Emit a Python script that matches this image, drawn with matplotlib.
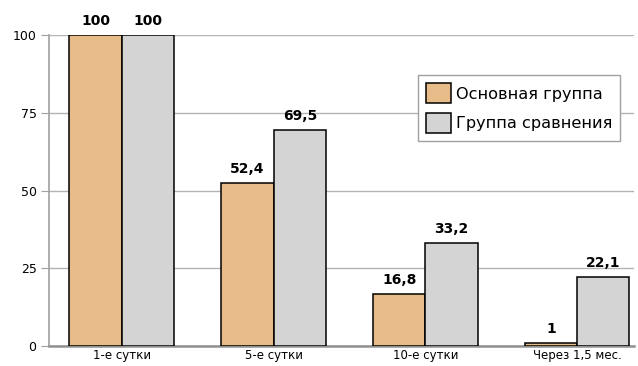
"""Grouped bar chart: main vs comparison group over follow-up time points."""

import matplotlib

matplotlib.use("Agg")
import matplotlib.pyplot as plt
import numpy as np

categories = ["1-е сутки", "5-е сутки", "10-е сутки", "Через 1,5 мес."]
main_group = [100, 52.4, 16.8, 1]
comparison_group = [100, 69.5, 33.2, 22.1]
series_names = ["Основная группа", "Группа сравнения"]
y_ticks = [0, 25, 50, 75, 100]


def fmt(v: float) -> str:
    s = f"{v:g}"
    return s.replace(".", ",")


def main() -> None:
    plt.rcParams["font.family"] = ["DejaVu Sans"]
    fig = plt.figure(figsize=(6.38, 3.66), dpi=100)
    ax = fig.add_axes([49 / 638, 1 - 346 / 366, (634 - 49) / 638, (346 - 35) / 366])

    x = np.arange(len(categories))
    w = 0.345
    colors = ["#E8BC88", "#D4D4D4"]

    for i, (vals, name) in enumerate(zip([main_group, comparison_group], series_names)):
        pos = x + (i - 0.5) * w
        ax.bar(pos, vals, width=w, color=colors[i], edgecolor="black",
               linewidth=1.1, label=name, zorder=3)
        for px, v in zip(pos, vals):
            ax.annotate(fmt(v), (px, v), xytext=(0, 5), textcoords="offset points",
                        ha="center", va="bottom", fontsize=10, fontweight="bold",
                        annotation_clip=False)

    ax.set_xlim(-0.48, 3.375)
    ax.set_ylim(0, 100)
    ax.set_yticks(y_ticks)
    ax.set_xticks(x)
    ax.set_xticklabels(categories)
    ax.tick_params(axis="y", length=6, color="#a0a0a0", labelsize=9, pad=3)
    ax.tick_params(axis="x", length=0, labelsize=8.5, pad=2.5)
    ax.yaxis.grid(True, color="#b4b4b4", linewidth=1.0, zorder=0)
    ax.set_axisbelow(True)
    for side in ["top", "right"]:
        ax.spines[side].set_visible(False)
    ax.spines["left"].set_color("#a0a0a0")
    ax.spines["left"].set_linewidth(1.2)
    ax.spines["bottom"].set_color("#909090")
    ax.spines["bottom"].set_linewidth(1.8)

    leg = ax.legend(loc="upper left", bbox_to_anchor=(0.631, 0.871), fontsize=11.6,
                    frameon=True, fancybox=False, borderpad=0.5, labelspacing=0.6,
                    handlelength=1.55, handleheight=1.55, handletextpad=0.3,
                    borderaxespad=0)
    leg.get_frame().set_edgecolor("#a0a0a0")
    leg.get_frame().set_linewidth(1.0)
    leg.get_frame().set_facecolor("white")
    leg.get_frame().set_alpha(1)

    fig.savefig("out.png", dpi=100)
    plt.close(fig)


if __name__ == "__main__":
    main()
